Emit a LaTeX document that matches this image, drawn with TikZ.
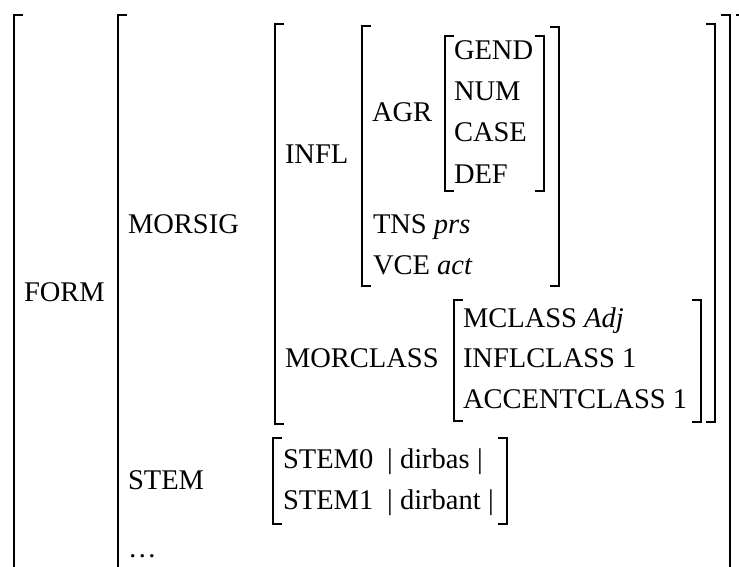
\documentclass[tikz,border=0pt]{standalone}
\usepackage{fontspec}
\setmainfont{Liberation Serif}
\begin{document}
\begin{tikzpicture}[x=1pt,y=-1pt,
  brk/.style={line width=1.7pt,line cap=butt,line join=miter},
  lbl/.style={anchor=base west,inner sep=0pt,outer sep=0pt,font=\fontsize{28.5}{34}\selectfont}]
\useasboundingbox (0,0) rectangle (739,567);
% left brackets
\draw[brk] (23,15) -- (14,15) -- (14,580);
\draw[brk] (127,15) -- (118,15) -- (118,580);
\draw[brk] (284,24) -- (275,24) -- (275,424) -- (284,424);
\draw[brk] (371,26) -- (362,26) -- (362,286) -- (371,286);
\draw[brk] (454,36) -- (445,36) -- (445,191) -- (454,191);
\draw[brk] (463,300) -- (454,300) -- (454,421) -- (463,421);
\draw[brk] (282,438) -- (273,438) -- (273,524) -- (282,524);
% right brackets
\draw[brk] (535,36) -- (544,36) -- (544,191) -- (535,191);
\draw[brk] (550,27) -- (559,27) -- (559,286) -- (550,286);
\draw[brk] (692,300) -- (701,300) -- (701,422) -- (692,422);
\draw[brk] (706,24) -- (715,24) -- (715,422) -- (706,422);
\draw[brk] (721,15) -- (730,15) -- (730,580);
\draw[brk] (736,15) -- (745,15) -- (745,580);
\draw[brk] (498,438) -- (507,438) -- (507,524) -- (498,524);
% labels
\node[lbl] (form) at (24,301) {FORM};
\node[lbl] (morsig) at (128,233) {MORSIG};
\node[lbl] (infl) at (285,164) {INFL};
\node[lbl] (agr) at (372,122) {AGR};
\node[lbl] (gend) at (454,60) {GEND};
\node[lbl] (num) at (454,101) {NUM};
\node[lbl] (case) at (454,142) {CASE};
\node[lbl] (def) at (454,183) {DEF};
\node[lbl] (tns) at (373,233) {TNS \textit{prs}};
\node[lbl] (vce) at (373,274) {VCE \textit{act}};
\node[lbl] (morclass) at (285,367) {MORCLASS};
\node[lbl] (mclass) at (463,327) {MCLASS \textit{Adj}};
\node[lbl] (inflclass) at (463,367) {INFLCLASS 1};
\node[lbl] (accclass) at (463,408) {ACCENTCLASS 1};
\node[lbl] (stem) at (128,489) {STEM};
\node[lbl] (stemzero) at (283,468) {STEM0};
\node[lbl] (barA) at (387,468) {|};
\node[lbl] (dirbas) at (400,468) {dirbas};
\node[lbl] (barB) at (477,468) {|};
\node[lbl] (stemone) at (283,509) {STEM1};
\node[lbl] (barC) at (387,509) {|};
\node[lbl] (dirbant) at (400,509) {dirbant};
\node[lbl] (barD) at (488,509) {|};
\node[lbl] (dots) at (128,557) {…};
\end{tikzpicture}
\end{document}
